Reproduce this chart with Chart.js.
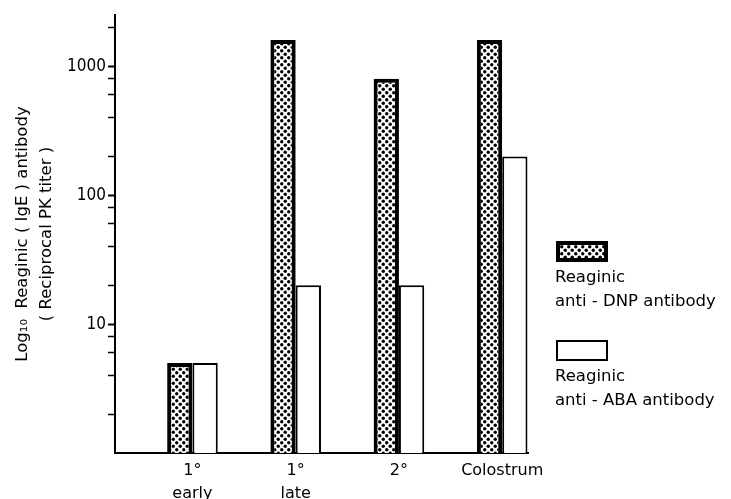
<!DOCTYPE html>
<html>
<head>
<meta charset="utf-8">
<script src="https://cdn.jsdelivr.net/npm/chart.js@4.4.0/dist/chart.umd.min.js"></script>
<style>
html, body { margin: 0; padding: 0; background: #fff; }
</style>
</head>
<body>
<canvas id="myChart" width="731" height="499"></canvas>
<script>
// data
let groups = [["1°", "early"], ["1°", "late"], "2°", "Colostrum"];
let groupPos = [0.75, 1.75, 2.75, 3.75];
let dnpTiter = [5, 1600, 800, 1600];
let abaTiter = [5, 20, 20, 200];
let yTicks = [2, 4, 6, 8, 10, 20, 40, 60, 80, 100, 200, 400, 600, 800, 1000, 2000];
let yLabels = [10, 100, 1000];

// dotted fill like the printed screen
function dots() {
  let c = document.createElement("canvas");
  c.width = 7; c.height = 7;
  let g = c.getContext("2d");
  g.fillStyle = "#fff";
  g.fillRect(0, 0, 7, 7);
  g.fillStyle = "#000";
  g.beginPath(); g.arc(1.75, 1.75, 1.7, 0, Math.PI * 2); g.fill();
  g.beginPath(); g.arc(5.25, 5.25, 1.7, 0, Math.PI * 2); g.fill();
  return g.createPattern(c, "repeat");
}
let dotFill = dots();

const font = "'DejaVu Sans', sans-serif";

let legendBoxes = {
  id: "legendBoxes",
  afterDraw(chart) {
    let ctx = chart.ctx;
    let tops = [241, 340];
    ctx.save();
    chart.data.datasets.forEach((ds, i) => {
      let y = tops[i];
      ctx.fillStyle = ds.backgroundColor;
      ctx.fillRect(556, y, 52, 21);
      ctx.lineWidth = ds.borderWidth;
      ctx.strokeStyle = "#000";
      let h = ds.borderWidth / 2;
      ctx.strokeRect(556 + h, y + h, 52 - ds.borderWidth, 21 - ds.borderWidth);
      ctx.fillStyle = "#000";
      ctx.font = "16.5px " + font;
      ctx.textBaseline = "middle";
      ctx.textAlign = "left";
      ds.legendLines.forEach((t, j) => ctx.fillText(t, 555, y + 37 + j * 24));
    });
    ctx.restore();
  }
};

let ctx = document.getElementById("myChart").getContext("2d");
let myChart = new Chart(ctx, {
  type: "bar",
  data: {
    datasets: [{
      label: "Reaginic anti-DNP antibody",
      legendLines: ["Reaginic", "anti - DNP antibody"],
      data: groupPos.map((x, i) => ({ x: x, y: dnpTiter[i] })),
      backgroundColor: dotFill,
      borderColor: "#000",
      borderWidth: 4,
      borderSkipped: "start",
      categoryPercentage: 0.49,
      barPercentage: 1
    }, {
      label: "Reaginic anti-ABA antibody",
      legendLines: ["Reaginic", "anti - ABA antibody"],
      data: groupPos.map((x, i) => ({ x: x, y: abaTiter[i] })),
      backgroundColor: "#fff",
      borderColor: "#000",
      borderWidth: 2,
      borderSkipped: "start",
      categoryPercentage: 0.49,
      barPercentage: 1
    }]
  },
  options: {
    responsive: false,
    animation: false,
    layout: { padding: { top: 15, right: 203, left: 0, bottom: 0 } },
    plugins: { legend: { display: false }, tooltip: { enabled: false } },
    scales: {
      x: {
        type: "linear",
        min: 0,
        max: 4,
        offset: false,
        afterBuildTicks: s => { s.ticks = groupPos.map(v => ({ value: v })); },
        afterFit: s => { s.height = 46; },
        ticks: {
          autoSkip: false,
          maxRotation: 0,
          padding: 7,
          color: "#000",
          font: { family: font, size: 16, lineHeight: 1.4 },
          callback: (v, i) => groups[i]
        },
        grid: { display: true, drawOnChartArea: false, drawTicks: false, offset: false },
        border: { display: true, color: "#000", width: 2 }
      },
      y: {
        type: "logarithmic",
        min: 1,
        max: 2500,
        afterBuildTicks: s => { s.ticks = yTicks.map(v => ({ value: v })); },
        afterFit: s => { s.width = 115; },
        ticks: {
          autoSkip: false,
          padding: 2,
          color: "#000",
          font: { family: "'DejaVu Sans Condensed', 'DejaVu Sans', sans-serif", size: 17 },
          callback: v => yLabels.includes(v) ? String(v) : ""
        },
        grid: {
          drawOnChartArea: false,
          drawTicks: true,
          tickLength: 7,
          tickColor: "#000",
          tickWidth: c => yLabels.includes(c.tick && c.tick.value) ? 2 : 1.5
        },
        border: { display: true, color: "#000", width: 2 },
        title: {
          display: true,
          text: ["Log\u2081\u2080  Reaginic ( IgE ) antibody", "( Reciprocal PK titer )"],
          color: "#000",
          padding: { top: 11, bottom: 0 },
          font: { family: font, size: 16.5, lineHeight: 1.45 }
        }
      }
    }
  },
  plugins: [legendBoxes]
});
</script>
</body>
</html>
